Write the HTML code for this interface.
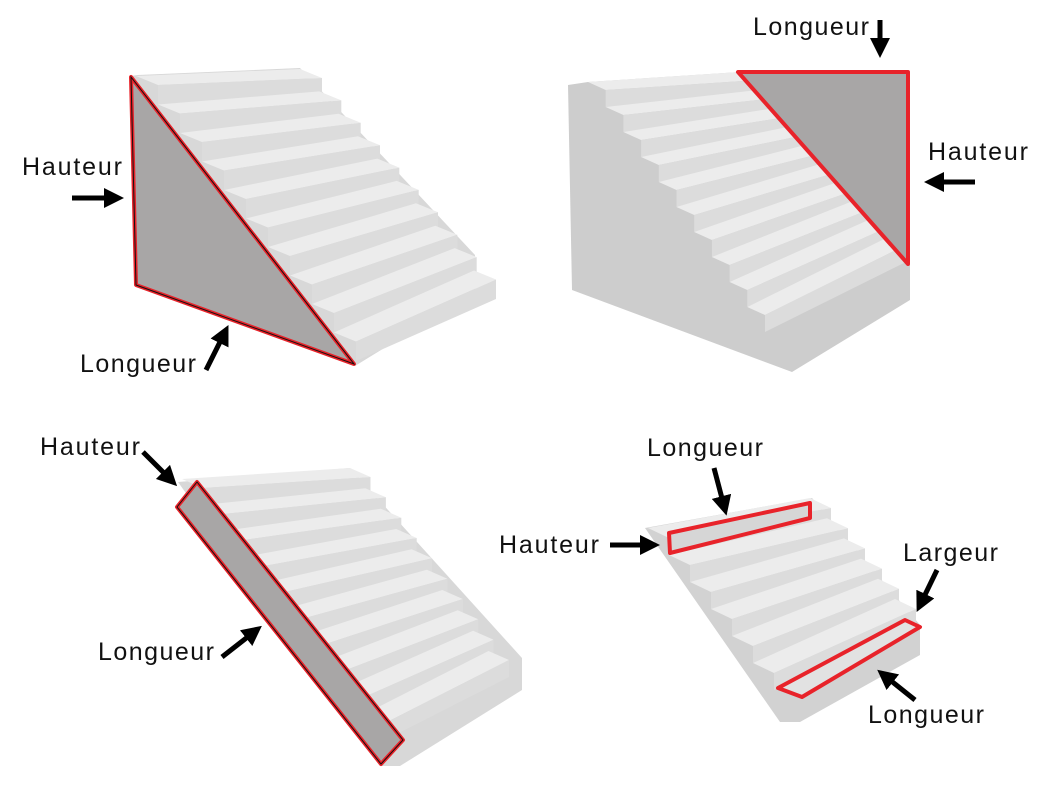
<!DOCTYPE html>
<html><head><meta charset="utf-8"><style>
html,body{margin:0;padding:0;background:#fff;width:1050px;height:800px;overflow:hidden}
svg text{font-family:"Liberation Sans",sans-serif;font-size:25px;fill:#111}
</style></head><body>
<svg id="s" width="1050" height="800" viewBox="0 0 1050 800" xmlns="http://www.w3.org/2000/svg">
<defs>
<marker id="ah" markerWidth="4" markerHeight="4" refX="2" refY="2" orient="auto" markerUnits="strokeWidth">
<path d="M0,0 L4,2 L0,4 z" fill="#000"/></marker>
</defs>
<polygon points="130,76 138,75 300,68 475,255 475,292 355,366 135,286" fill="#d8d8d8"/>
<polygon points="568,85 588,82 740,72 910,265 910,300 792,372 572,290" fill="#cdcdcd"/>
<polygon points="178,482 350,468 522,658 522,690 400,766 380,766" fill="#d8d8d8"/>
<polygon points="645,528 812,498 920,625 920,655 800,722 780,722" fill="#d2d2d2"/>
<g id="steps"></g>
<polygon points="131,77 136,285 354,364" fill="#a8a6a6" stroke="#e8232a" stroke-width="4" stroke-linejoin="round"/>
<polygon points="131,77 136,285 354,364" fill="none" stroke="#111" stroke-width="1"/>
<polygon points="738,72 908,72 908,264" fill="#a8a6a6" stroke="#e8232a" stroke-width="4" stroke-linejoin="round"/>
<polygon points="177,507 197,482 403,740 381,764" fill="#a8a6a6" stroke="#e8232a" stroke-width="4" stroke-linejoin="round"/>
<polygon points="177,507 197,482 403,740 381,764" fill="none" stroke="#111" stroke-width="1"/>
<polygon points="669,533 810,503 810,518 670,553" fill="#d6d6d6" stroke="#e8232a" stroke-width="4" stroke-linejoin="round"/>
<polygon points="778,688 905,620 920,627 802,697" fill="#e2e2e2" stroke="#e8232a" stroke-width="4" stroke-linejoin="round"/>
<g stroke="#000" stroke-width="5" fill="none" marker-end="url(#ah)">
<line x1="72" y1="198" x2="114" y2="198"/>
<line x1="206" y1="370" x2="224" y2="334"/>
<line x1="880" y1="20" x2="880" y2="48"/>
<line x1="975" y1="182" x2="934" y2="182"/>
<line x1="143" y1="452" x2="170" y2="479"/>
<line x1="222" y1="657" x2="254" y2="632"/>
<line x1="714" y1="468" x2="724" y2="506"/>
<line x1="610" y1="545" x2="650" y2="545"/>
<line x1="937" y1="570" x2="921" y2="603"/>
<line x1="915" y1="700" x2="885" y2="676"/>
</g>
<text x="22" y="175" textLength="100">Hauteur</text>
<text x="80" y="372" textLength="116">Longueur</text>
<text x="753" y="35" textLength="116">Longueur</text>
<text x="928" y="160" textLength="100">Hauteur</text>
<text x="40" y="455" textLength="100">Hauteur</text>
<text x="98" y="660" textLength="116">Longueur</text>
<text x="647" y="456" textLength="116">Longueur</text>
<text x="499" y="553" textLength="100">Hauteur</text>
<text x="903" y="561" textLength="95">Largeur</text>
<text x="868" y="723" textLength="116">Longueur</text>
</svg>
<script>
var g=document.getElementById('steps');
function poly(pts,fill){var p=document.createElementNS('http://www.w3.org/2000/svg','polygon');
p.setAttribute('points',pts.map(function(q){return q[0].toFixed(1)+','+q[1].toFixed(1)}).join(' '));
p.setAttribute('fill',fill);g.appendChild(p);}
function stairs(P,n,w0,w1,t,r){
 var x=P[0],y=P[1];
 for(var i=0;i<n;i++){var f=n>1?i/(n-1):0;var w=[w0[0]+(w1[0]-w0[0])*f,w0[1]+(w1[1]-w0[1])*f];
  poly([[x,y],[x+w[0],y+w[1]],[x+w[0]+t[0],y+w[1]+t[1]],[x+t[0],y+t[1]]],'#ececec');
  var a=x+t[0],b=y+t[1];
  poly([[a,b],[a+w[0],b+w[1]],[a+w[0],b+w[1]+r],[a,b+r]],'#dcdcdc');
  x=a;y=b+r;}
}
stairs([136,76],10,[164,-7],[140,-62],[22,9],19.5);
stairs([588,82],10,[152,-10],[145,-72],[17.7,8],17);
stairs([182,479],10,[168,-11],[122,-62],[20.5,9],17);
stairs([648,528],6,[162,-30],[142,-64],[21,10],17);
</script>
</body></html>
